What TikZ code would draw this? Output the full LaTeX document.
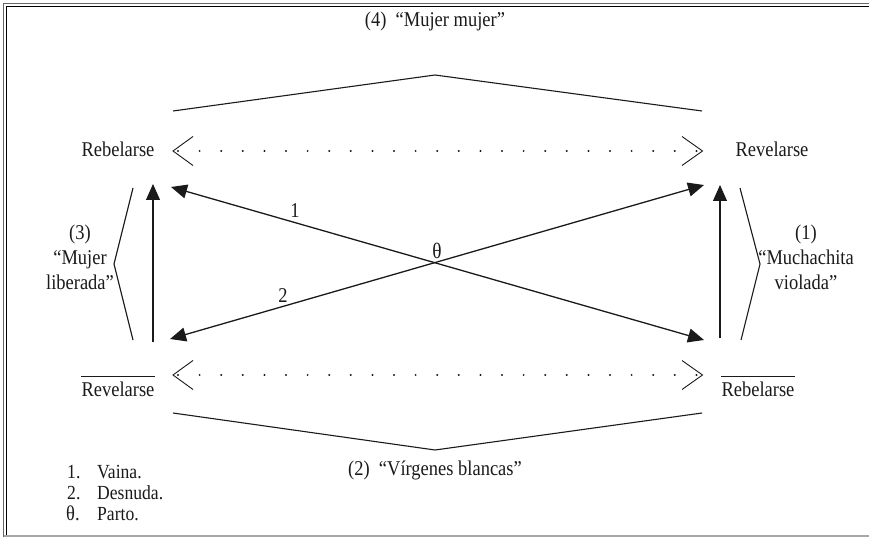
\documentclass[tikz,border=0pt]{standalone}
\usepackage{fontspec}
\setmainfont[FakeStretch=0.88]{Liberation Serif}
\usetikzlibrary{arrows.meta}
\definecolor{ink}{HTML}{1A1A1A}
\tikzset{
  lbl/.style={inner sep=0pt, text=ink, font=\fontsize{21}{23}\selectfont},
  lglbl/.style={inner sep=0pt, text=ink, font=\fontsize{20}{22}\selectfont, anchor=base west},
  brk/.style={draw=ink, line width=1.1pt},
  conn/.style={draw=ink, line width=1.3pt, {Triangle[length=16pt,width=14pt]}-{Triangle[length=16pt,width=14pt]}},
  uparr/.style={draw=ink, line width=1.1pt, -{Triangle[length=16pt,width=14pt]}},
  chev/.style={draw=ink, line width=0.9pt},
  dotmark/.style={fill=ink, draw=none}
}
\begin{document}
\begin{tikzpicture}[x=1pt,y=-1pt]
\useasboundingbox (0,0) rectangle (869,537);
% frame
\draw[gray!80!black, line width=1.6pt] (3.5,537) -- (3.5,3.5) -- (869,3.5);
\draw[black, line width=1.2pt] (6.2,536) -- (6.2,6.2) -- (869,6.2);
\draw[gray!70, line width=1.4pt] (3.5,536) -- (869,536);

% main terms
\node[lbl] (rebT) at (118,149) {Rebelarse};
\node[lbl] (revT) at (772,149) {Revelarse};
\node[lbl] (revB) at (118,389) {Revelarse};
\node[lbl] (rebB) at (758,389) {Rebelarse};
\draw[ink, line width=1pt] ([yshift=5pt]revB.north west) -- ([yshift=5pt]revB.north east);
\draw[ink, line width=1pt] ([yshift=5pt]rebB.north west) -- ([yshift=5pt]rebB.north east);

% titles of brackets
\node[lbl] (t4) at (435,21) {(4)\ \ “Mujer mujer”};
\node[lbl] (t2) at (435,470) {(2)\ \ “Vírgenes blancas”};
\node[lbl, align=center, font=\fontsize{21}{25}\selectfont] (t3) at (80,257) {(3)\\“Mujer\\liberada”};
\node[lbl, align=center, font=\fontsize{21}{25}\selectfont] (t1) at (806,257) {(1)\\“Muchachita\\violada”};

% brackets
\coordinate (b4l) at (173,111); \coordinate (b4p) at (435,75); \coordinate (b4r) at (702,111);
\draw[brk] (b4l) -- (b4p) -- (b4r);
\coordinate (b2l) at (173,413); \coordinate (b2p) at (435,450); \coordinate (b2r) at (702,413);
\draw[brk] (b2l) -- (b2p) -- (b2r);
\coordinate (b3t) at (133,188); \coordinate (b3p) at (114,264); \coordinate (b3b) at (133,340);
\draw[brk] (b3t) -- (b3p) -- (b3b);
\coordinate (b1t) at (740,188); \coordinate (b1p) at (760,264); \coordinate (b1b) at (741,340);
\draw[brk] (b1t) -- (b1p) -- (b1b);

% dotted relations with open chevrons
\foreach \yy in {151,375}{
  \draw[chev] (193,\yy-14.5) -- (173,\yy) -- (193,\yy+14.5);
  \draw[chev] (682,\yy-14.5) -- (702.5,\yy) -- (682,\yy+14.5);
  \foreach \i in {0,...,24}{
    \fill[dotmark] (178+\i*21.6,\yy) circle (1.1);
  }
}

% vertical arrows
\coordinate (vl0) at (153,342); \coordinate (vl1) at (153,184);
\coordinate (vr0) at (720,338); \coordinate (vr1) at (720,185);
\draw[uparr] (vl0) -- (vl1);
\draw[uparr] (vr0) -- (vr1);

% diagonal arrows
\coordinate (d1a) at (171,187); \coordinate (d1b) at (704,340);
\coordinate (d2a) at (170,339); \coordinate (d2b) at (704,185);
\draw[conn] (d1a) -- (d1b);
\draw[conn] (d2a) -- (d2b);
\node[lbl] (n1) at (295,211) {1};
\node[lbl] (n2) at (283,296) {2};
\node[lbl, font=\fontsize{22}{24}\selectfont] (th) at (437,251) {θ};

% legend
\node[lglbl] (l1n) at (67,478) {1.};
\node[lglbl] (l1t) at (97,478) {Vaina.};
\node[lglbl] (l2n) at (67,499) {2.};
\node[lglbl] (l2t) at (97,499) {Desnuda.};
\node[lglbl, font=\fontsize{21}{23}\selectfont] (l3n) at (66,520) {θ.};
\node[lglbl] (l3t) at (97,520) {Parto.};
\end{tikzpicture}
\end{document}
